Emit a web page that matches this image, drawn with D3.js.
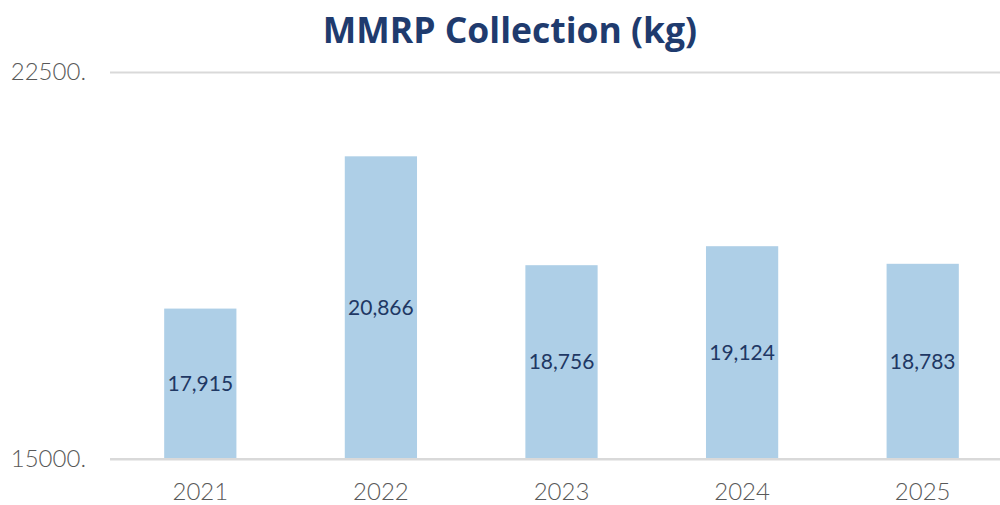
<!DOCTYPE html>
<html><head><meta charset="utf-8">
<script src="https://cdn.jsdelivr.net/npm/d3@7"></script>
<style>body{margin:0;background:#fff}svg{display:block}</style>
</head><body>
<svg id="c" width="1000" height="505"></svg>
<script>
const categories = ["2021","2022","2023","2024","2025"];
const values = [17915, 20866, 18756, 19124, 18783];
const yTicks = [15000, 22500];
const title = "MMRP Collection (kg)";

const svg = d3.select("#c");
const x = d3.scaleBand().domain(categories).range([110, 1013]).paddingInner(0.6).paddingOuter(0.3);
const y = d3.scaleLinear().domain([15000, 22500]).range([459, 72]);

svg.append("text").attr("x", 510).attr("y", 43).attr("text-anchor", "middle")
  .attr("font-family", "Open Sans").attr("font-weight", "bold").attr("font-size", 35.5)
  .attr("fill", "#1f3b6e").text(title);

const ya = svg.append("g").attr("transform", "translate(110,0)")
  .call(d3.axisLeft(y).tickValues(yTicks).tickSize(-890).tickFormat(d => d + "."));
ya.select(".domain").remove();
ya.selectAll(".tick line").attr("stroke", "#d9d9d9").attr("stroke-width", 2);
ya.selectAll(".tick text").attr("x", -24).attr("dy", "0.32em")
  .attr("font-family", "Lato").attr("font-weight", 300).attr("font-size", 24).attr("fill", "#595959");

svg.append("g").selectAll("rect").data(values).join("rect")
  .attr("x", (d, i) => x(categories[i])).attr("width", x.bandwidth())
  .attr("y", d => y(d)).attr("height", d => y(15000) - y(d))
  .attr("fill", "#aecfe7");

svg.append("line").attr("x1", 110).attr("x2", 1000).attr("y1", y(15000)).attr("y2", y(15000))
  .attr("stroke", "#d9d9d9").attr("stroke-width", 2);

svg.append("g").selectAll("text").data(values).join("text")
  .attr("x", (d, i) => x(categories[i]) + x.bandwidth() / 2)
  .attr("y", d => (y(d) + y(15000)) / 2).attr("dy", "0.35em")
  .attr("text-anchor", "middle").attr("font-family", "Lato").attr("font-size", 21)
  .attr("fill", "#1f3864").text(d => d3.format(",")(d));

const xa = svg.append("g").attr("transform", "translate(0,459)")
  .call(d3.axisBottom(x).tickSize(0));
xa.select(".domain").remove();
xa.selectAll(".tick text").attr("y", 33).attr("dy", "0.35em")
  .attr("font-family", "Lato").attr("font-weight", 300).attr("font-size", 24).attr("fill", "#595959");
</script>
</body></html>
